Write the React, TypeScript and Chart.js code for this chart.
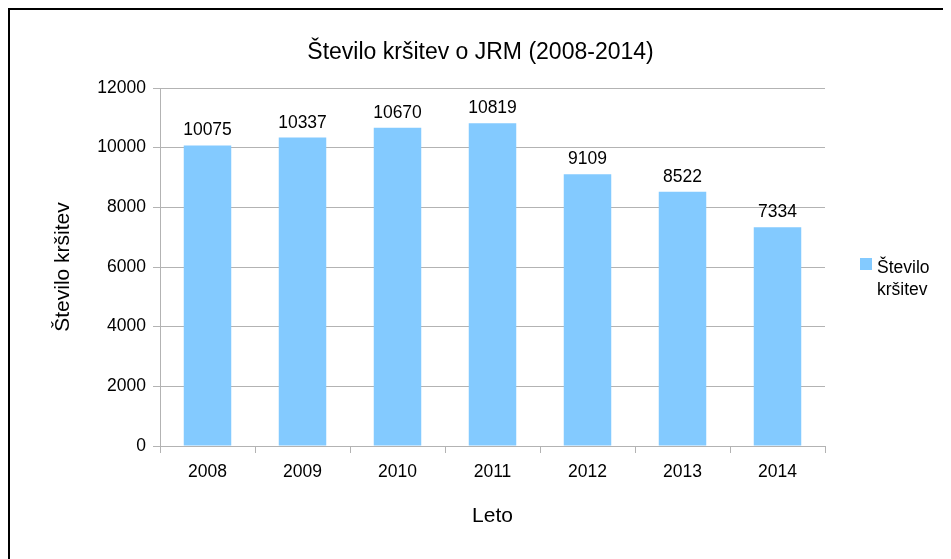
import React, { useEffect, useRef } from "react";
import { Chart, registerables } from "chart.js";

Chart.register(...registerables);

const years = ["2008", "2009", "2010", "2011", "2012", "2013", "2014"];
const violations = [10075, 10337, 10670, 10819, 9109, 8522, 7334];
const seriesLabel = "Število kršitev";
const legendLines = ["Število", "kršitev"];
const chartTitle = "Število kršitev o JRM (2008-2014)";
const yTitle = "Število kršitev";
const xTitle = "Leto";

const FONT = "'Liberation Sans', Arial, sans-serif";
const BAR_COLOR = "#83caff";
const GRID = "#b3b3b3";

const valueLabels = {
  id: "valueLabels",
  afterDatasetsDraw(chart: any) {
    const ctx = chart.ctx;
    const meta = chart.getDatasetMeta(0);
    ctx.save();
    ctx.font = `17.5px ${FONT}`;
    ctx.fillStyle = "#000";
    ctx.textAlign = "center";
    ctx.textBaseline = "alphabetic";
    meta.data.forEach((bar: any, i: number) => {
      ctx.fillText(String(chart.data.datasets[0].data[i]), bar.x, bar.y - 10);
    });
    ctx.restore();
  },
};

const topTitle = {
  id: "topTitle",
  afterDraw(chart: any) {
    const ctx = chart.ctx;
    ctx.save();
    ctx.font = `23px ${FONT}`;
    ctx.fillStyle = "#000";
    ctx.textAlign = "center";
    ctx.textBaseline = "middle";
    ctx.fillText(chartTitle, chart.width / 2, 43);
    ctx.restore();
  },
};

const sideLegend = {
  id: "sideLegend",
  afterDraw(chart: any) {
    const ctx = chart.ctx;
    const area = chart.chartArea;
    const x0 = area.right + 35;
    const y0 = (area.top + area.bottom) / 2 - 9;
    ctx.save();
    ctx.fillStyle = BAR_COLOR;
    ctx.fillRect(x0, y0, 12, 12);
    ctx.fillStyle = "#000";
    ctx.font = `17.5px ${FONT}`;
    ctx.textAlign = "left";
    ctx.textBaseline = "alphabetic";
    legendLines.forEach((line, i) => {
      ctx.fillText(line, x0 + 17, y0 + 15 + i * 22);
    });
    ctx.restore();
  },
};

export default function App() {
  const ref = useRef<HTMLCanvasElement>(null);
  useEffect(() => {
    if (!ref.current) return;
    const chart = new Chart(ref.current, {
      type: "bar",
      data: {
        labels: years,
        datasets: [
          {
            label: seriesLabel,
            data: violations,
            backgroundColor: BAR_COLOR,
            borderWidth: 0,
            barPercentage: 0.5,
            categoryPercentage: 1,
          },
        ],
      },
      options: {
        animation: false,
        responsive: true,
        maintainAspectRatio: false,
        layout: { padding: { left: 0, right: 126, top: 78, bottom: 0 } },
        plugins: {
          legend: { display: false },
          tooltip: { enabled: false },
          title: { display: false },
        },
        scales: {
          x: {
            offset: true,
            grid: {
              offset: true,
              drawOnChartArea: true,
              color: (c: any) => (c.index === years.length ? GRID : "transparent"),
              tickColor: GRID,
              tickLength: 7,
            },
            border: { display: true, color: GRID },
            ticks: {
              color: "#000",
              font: { family: FONT, size: 17.5 },
              padding: 9,
            },
            title: {
              display: true,
              text: xTitle,
              color: "#000",
              font: { family: FONT, size: 21 },
              padding: { top: 0, bottom: 30 },
            },
            afterFit: (s: any) => {
              s.height = 113;
            },
          },
          y: {
            min: 0,
            max: 12000,
            ticks: {
              stepSize: 2000,
              color: "#000",
              font: { family: FONT, size: 17.5 },
              padding: 7,
              callback: (v: any) => String(v),
            },
            grid: { color: GRID, tickColor: GRID, tickLength: 7 },
            border: { display: true, color: GRID },
            title: {
              display: true,
              text: yTitle,
              color: "#000",
              font: { family: FONT, size: 21 },
              padding: { top: 41, bottom: 0 },
            },
            afterFit: (s: any) => {
              s.width = 150;
            },
          },
        },
      },
      plugins: [valueLabels, sideLegend, topTitle],
    });
    return () => chart.destroy();
  }, []);

  return (
    <div
      style={{
        borderTop: "2px solid #000",
        borderLeft: "2px solid #000",
        width: 941,
        height: 549,
        background: "#fff",
      }}
    >
      <div style={{ position: "relative", width: 941, height: 549 }}>
        <canvas ref={ref} />
      </div>
    </div>
  );
}
